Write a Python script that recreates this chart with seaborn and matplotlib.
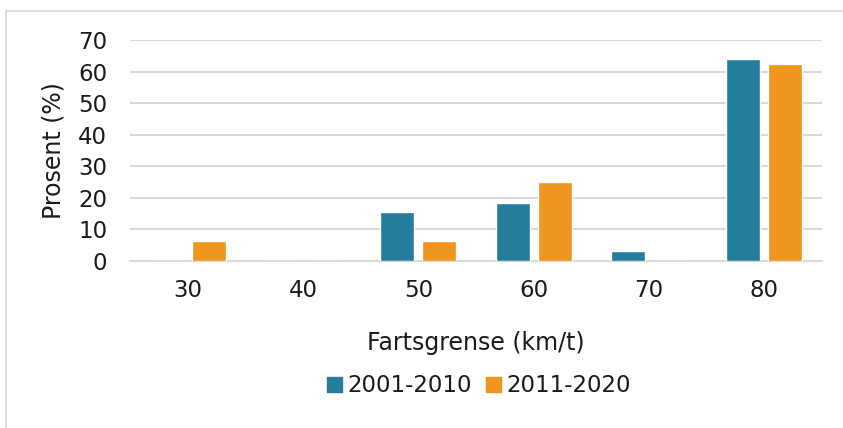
import matplotlib
matplotlib.use("Agg")
import matplotlib.pyplot as plt
import seaborn as sns
import pandas as pd
from matplotlib.lines import Line2D

categories = ["30", "40", "50", "60", "70", "80"]
series_names = ["2001-2010", "2011-2020"]
values_2001_2010 = [0, 0, 15.4, 18.5, 3.1, 64.0]
values_2011_2020 = [6.25, 0, 6.25, 25.0, 0, 62.5]
y_ticks = [0, 10, 20, 30, 40, 50, 60, 70]

colors = ["#247e9b", "#f09520"]

df = pd.DataFrame({
    "Fartsgrense": categories * 2,
    "Prosent": values_2001_2010 + values_2011_2020,
    "Periode": [series_names[0]] * len(categories) + [series_names[1]] * len(categories),
})

sns.set_theme(style="white")
plt.rcParams["font.family"] = ["DejaVu Sans"]

W, H = 843, 428
fig = plt.figure(figsize=(W / 100, H / 100), dpi=100)
ax = fig.add_axes([130 / W, 1 - 261 / H, (822 - 130) / W, (261 - 40) / H])

sns.barplot(data=df, x="Fartsgrense", y="Prosent", hue="Periode", order=categories,
            hue_order=series_names, palette=colors, width=0.73, gap=0.19,
            saturation=1, ax=ax, legend=False, zorder=3)

txt = "#1a1a1a"
ax.set_ylim(0, 70)
ax.set_yticks(y_ticks)
ax.set_xlim(-0.5, len(categories) - 0.5)
ax.yaxis.grid(True, color="#d9d9d9", linewidth=1.5, zorder=0)
ax.set_axisbelow(True)
for s in ["top", "right", "left"]:
    ax.spines[s].set_visible(False)
ax.spines["bottom"].set_color("#d9d9d9")
ax.spines["bottom"].set_linewidth(1.5)
ax.tick_params(axis="both", length=0, labelsize=16.5, colors=txt)
ax.tick_params(axis="y", pad=16.5)
ax.tick_params(axis="x", pad=13)
ax.set_xlabel("Fartsgrense (km/t)", fontsize=17, color=txt, labelpad=21)
ax.set_ylabel("Prosent (%)", fontsize=17, color=txt, labelpad=9)

handles = [plt.Rectangle((0, 0), 1, 1, color=c) for c in colors]
fig.legend(handles, series_names, loc="center", bbox_to_anchor=(479 / W, 1 - 386 / H),
           ncol=2, frameon=False, fontsize=16.5, handlelength=0.65, handleheight=0.65,
           handletextpad=0.26, columnspacing=0.6, labelcolor=txt)

# outer chart frame (top and left edges)
fig.add_artist(Line2D([6 / W, 1], [1 - 11 / H, 1 - 11 / H], color="#d9d9d9", linewidth=1.2))
fig.add_artist(Line2D([6 / W, 6 / W], [0, 1 - 11 / H], color="#d9d9d9", linewidth=1.2))

fig.savefig("out.png", dpi=100, facecolor="white")
